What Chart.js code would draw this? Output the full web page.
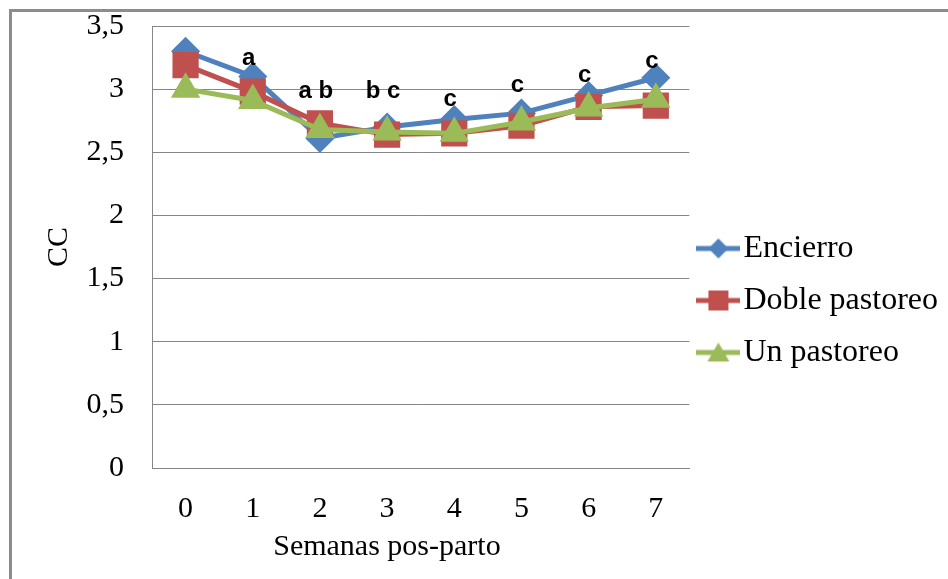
<!DOCTYPE html>
<html>
<head>
<meta charset="utf-8">
<script src="https://cdn.jsdelivr.net/npm/chart.js@4/dist/chart.umd.min.js"></script>
<style>
  html, body { margin: 0; padding: 0; background: #fff; }
  #wrap { position: relative; width: 948px; height: 579px; overflow: hidden; }
  #frame {
    position: absolute; left: 9px; top: 9px; width: 960px; height: 600px;
    border-left: 3px solid #8c8c8c; border-top: 3px solid #8c8c8c;
    pointer-events: none;
  }
</style>
</head>
<body>
<div id="wrap">
  <canvas id="chart" width="948" height="579"></canvas>
  <div id="frame"></div>
</div>
<script>
// weeks after calving
const weeks = ['0', '1', '2', '3', '4', '5', '6', '7'];

const encierro = [3.30, 3.10, 2.61, 2.70, 2.76, 2.81, 2.95, 3.09];
const doblePastoreo = [3.19, 2.98, 2.73, 2.64, 2.65, 2.71, 2.86, 2.87];
const unPastoreo = [3.00, 2.91, 2.68, 2.66, 2.65, 2.74, 2.85, 2.92];

// significance letters and the CC level they sit at
const letters = ['', 'a', 'a b', 'b c', 'c', 'c', 'c', 'c'];
const letterLevels = [0, 3.24, 2.98, 2.98, 2.92, 3.03, 3.11, 3.22];

const BLUE = '#4f81bd';
const RED = '#c0504d';
const GREEN = '#9bbb59';
const SERIF = '"Liberation Serif", "Times New Roman", serif';

// legend swatch: line with the marker in the middle
function swatch(color, shape) {
    const c = document.createElement('canvas');
    c.width = 44;
    c.height = 30;
    const ctx = c.getContext('2d');
    ctx.strokeStyle = color;
    ctx.fillStyle = color;
    ctx.lineWidth = 5;
    ctx.beginPath();
    ctx.moveTo(0, 15);
    ctx.lineTo(44, 15);
    ctx.stroke();
    ctx.beginPath();
    if (shape === 'diamond') {
        ctx.moveTo(22, 5); ctx.lineTo(32, 15); ctx.lineTo(22, 25); ctx.lineTo(12, 15);
    } else if (shape === 'square') {
        ctx.rect(12, 5, 20, 20);
    } else {
        ctx.moveTo(22, 5); ctx.lineTo(33, 24); ctx.lineTo(11, 24);
    }
    ctx.closePath();
    ctx.fill();
    return c;
}
const swatches = [swatch(BLUE, 'diamond'), swatch(RED, 'square'), swatch(GREEN, 'triangle')];

const letterPlugin = {
    id: 'letters',
    afterDatasetsDraw(chart) {
        const { ctx, scales: { x, y } } = chart;
        ctx.save();
        ctx.font = 'bold 24px "Liberation Sans", Arial, sans-serif';
        ctx.fillStyle = '#000';
        ctx.textAlign = 'center';
        ctx.textBaseline = 'middle';
        letters.forEach((txt, i) => {
            if (!txt) return;
            ctx.fillText(txt, x.getPixelForValue(i) - 4, y.getPixelForValue(letterLevels[i]));
        });
        ctx.restore();
    }
};

// nudge the legend so it lines up with the reference
const legendShift = {
    id: 'legendShift',
    afterLayout(chart) {
        if (chart.legend) {
            chart.legend.top -= 2;
            chart.legend.bottom -= 2;
        }
    }
};

new Chart(document.getElementById('chart'), {
    type: 'line',
    data: {
        labels: weeks,
        datasets: [
            {
                label: 'Encierro',
                data: encierro,
                borderColor: BLUE,
                backgroundColor: BLUE,
                pointStyle: 'rectRot',
                pointRadius: 11,
                borderWidth: 5,
                order: 3
            },
            {
                label: 'Doble pastoreo',
                data: doblePastoreo,
                borderColor: RED,
                backgroundColor: RED,
                pointStyle: 'rect',
                pointRadius: 15,
                borderWidth: 5,
                order: 2
            },
            {
                label: 'Un pastoreo',
                data: unPastoreo,
                borderColor: GREEN,
                backgroundColor: GREEN,
                pointStyle: 'triangle',
                pointRadius: 12,
                borderWidth: 5,
                order: 1
            }
        ]
    },
    options: {
        responsive: false,
        animation: false,
        events: [],
        layout: { padding: { left: 10, top: 26, right: 0, bottom: 0 } },
        elements: {
            line: { tension: 0 },
            point: { borderWidth: 0 }
        },
        plugins: {
            tooltip: { enabled: false },
            legend: {
                position: 'right',
                maxWidth: 400,
                labels: {
                    sort: (a, b) => a.datasetIndex - b.datasetIndex,
                    usePointStyle: true,
                    pointStyleWidth: 18,
                    color: '#000',
                    padding: 20,
                    font: { family: SERIF, size: 32 },
                    generateLabels(chart) {
                        const items = Chart.defaults.plugins.legend.labels.generateLabels(chart);
                        items.forEach(it => { it.pointStyle = swatches[it.datasetIndex]; });
                        return items;
                    }
                }
            }
        },
        scales: {
            x: {
                offset: true,
                grid: { display: false, drawTicks: true, tickLength: 20, tickColor: 'rgba(0,0,0,0)' },
                border: { color: '#868686', width: 1 },
                ticks: { color: '#000', padding: 3, font: { family: SERIF, size: 30 } },
                title: {
                    display: true,
                    // trailing spaces pull the title left of the plot centre, as in the original
                    text: 'Semanas pos-parto' + '\u00a0'.repeat(9),
                    color: '#000',
                    font: { family: SERIF, size: 30 },
                    padding: { top: 0, bottom: 14 }
                },
                afterFit(scale) { scale.height = 111; }
            },
            y: {
                min: 0,
                max: 3.5,
                grid: { color: '#868686', lineWidth: 1, drawTicks: true, tickLength: 25, tickColor: 'rgba(0,0,0,0)' },
                border: { color: '#868686', width: 1 },
                ticks: {
                    stepSize: 0.5,
                    color: '#000',
                    padding: 3,
                    font: { family: SERIF, size: 30 },
                    callback: v => String(v).replace('.', ',')
                },
                title: {
                    display: true,
                    text: 'CC',
                    color: '#000',
                    font: { family: SERIF, size: 30 },
                    padding: { top: 31, bottom: 0 }
                },
                afterFit(scale) { scale.width = 142; }
            }
        }
    },
    plugins: [letterPlugin, legendShift]
});
</script>
</body>
</html>
